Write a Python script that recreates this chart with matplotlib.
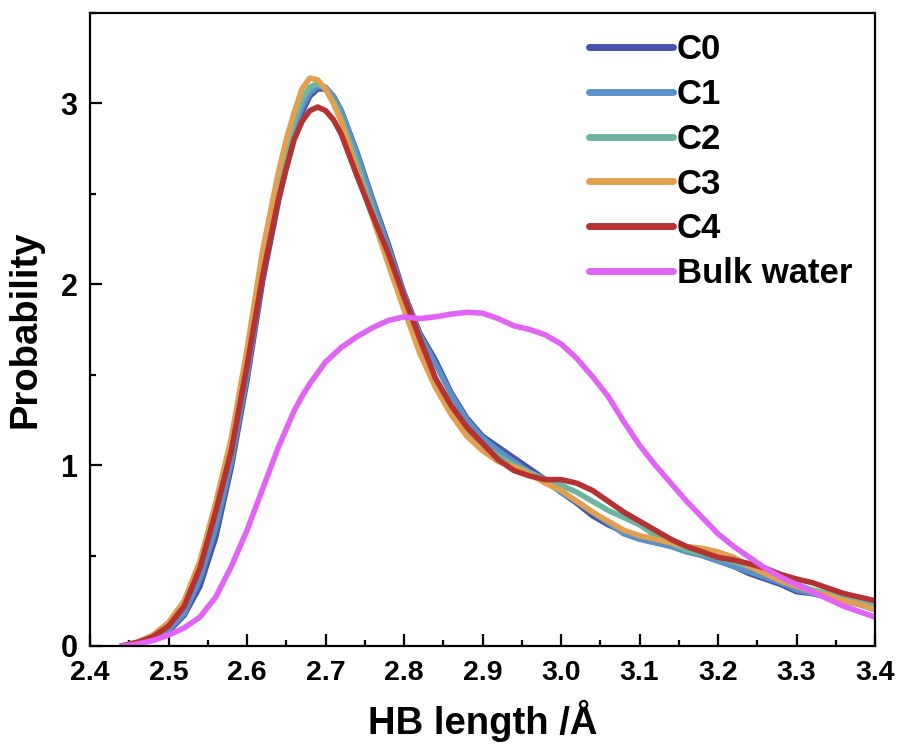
import matplotlib
matplotlib.use("Agg")
import matplotlib.pyplot as plt
from matplotlib.ticker import MultipleLocator

plt.rcParams['font.family'] = ['Liberation Sans', 'DejaVu Sans']
plt.rcParams['font.weight'] = 'bold'

# HB length grid (Å), finer around the peak
hb_len = [2.44, 2.46, 2.48, 2.50, 2.52, 2.54, 2.56, 2.58, 2.60, 2.62, 2.64,
          2.65, 2.66, 2.67, 2.68, 2.69, 2.70, 2.71, 2.72,
          2.74, 2.76, 2.78, 2.80, 2.82, 2.84, 2.86, 2.88, 2.90, 2.92, 2.94,
          2.96, 2.98, 3.00, 3.02, 3.04, 3.06, 3.08, 3.10, 3.12, 3.14, 3.16,
          3.18, 3.20, 3.22, 3.24, 3.26, 3.28, 3.30, 3.32, 3.34, 3.36, 3.38, 3.40]

p_c0 = [0.0, 0.01, 0.04, 0.08, 0.17, 0.33, 0.60, 0.99, 1.47, 2.02, 2.46,
        2.65, 2.82, 2.95, 3.04, 3.08, 3.08, 3.04, 2.96,
        2.73, 2.47, 2.22, 1.95, 1.73, 1.58, 1.40, 1.26, 1.16, 1.10, 1.04,
        0.98, 0.92, 0.85, 0.79, 0.72, 0.67, 0.63, 0.60, 0.59, 0.57, 0.53,
        0.50, 0.47, 0.44, 0.40, 0.37, 0.34, 0.30, 0.29, 0.27, 0.25, 0.23, 0.21]

p_c1 = [0.0, 0.01, 0.04, 0.09, 0.18, 0.37, 0.65, 1.02, 1.50, 2.05, 2.50,
        2.70, 2.86, 2.98, 3.06, 3.095, 3.09, 3.04, 2.96,
        2.72, 2.46, 2.20, 1.94, 1.72, 1.56, 1.39, 1.25, 1.15, 1.08, 1.02,
        0.96, 0.91, 0.85, 0.80, 0.74, 0.68, 0.62, 0.59, 0.57, 0.55, 0.52,
        0.50, 0.47, 0.44, 0.41, 0.38, 0.35, 0.31, 0.29, 0.27, 0.25, 0.23, 0.20]

p_c2 = [0.0, 0.02, 0.05, 0.11, 0.22, 0.43, 0.74, 1.10, 1.58, 2.12, 2.56,
        2.75, 2.90, 3.02, 3.09, 3.11, 3.08, 3.01, 2.92,
        2.67, 2.41, 2.15, 1.90, 1.67, 1.48, 1.32, 1.20, 1.11, 1.05, 1.00,
        0.96, 0.92, 0.89, 0.85, 0.80, 0.75, 0.71, 0.67, 0.61, 0.57, 0.53,
        0.51, 0.49, 0.465, 0.44, 0.41, 0.37, 0.34, 0.31, 0.29, 0.26, 0.24, 0.22]

p_c3 = [0.0, 0.02, 0.06, 0.13, 0.25, 0.47, 0.79, 1.15, 1.64, 2.19, 2.62,
        2.80, 2.95, 3.08, 3.14, 3.13, 3.08, 3.00, 2.90,
        2.62, 2.37, 2.11, 1.86, 1.62, 1.43, 1.28, 1.16, 1.08, 1.02, 0.99,
        0.95, 0.90, 0.86, 0.80, 0.74, 0.69, 0.64, 0.61, 0.59, 0.57, 0.55,
        0.54, 0.52, 0.49, 0.44, 0.40, 0.36, 0.33, 0.30, 0.28, 0.25, 0.23, 0.20]

p_c4 = [0.0, 0.02, 0.05, 0.11, 0.22, 0.43, 0.74, 1.08, 1.55, 2.05, 2.47,
        2.64, 2.80, 2.90, 2.96, 2.98, 2.96, 2.91, 2.83,
        2.60, 2.38, 2.17, 1.93, 1.70, 1.48, 1.33, 1.21, 1.12, 1.03, 0.97,
        0.94, 0.92, 0.92, 0.90, 0.86, 0.80, 0.74, 0.69, 0.64, 0.59, 0.55,
        0.52, 0.49, 0.475, 0.455, 0.43, 0.395, 0.37, 0.35, 0.32, 0.29, 0.27, 0.25]

p_bulk = [0.0, 0.01, 0.03, 0.06, 0.10, 0.16, 0.27, 0.44, 0.64, 0.87, 1.10,
          1.20, 1.30, 1.38, 1.45, 1.51, 1.57, 1.61, 1.65,
          1.71, 1.76, 1.80, 1.82, 1.81, 1.82, 1.835, 1.845, 1.84, 1.81, 1.77,
          1.75, 1.72, 1.67, 1.59, 1.49, 1.38, 1.24, 1.11, 1.00, 0.90, 0.80,
          0.71, 0.62, 0.55, 0.49, 0.43, 0.38, 0.34, 0.30, 0.26, 0.22, 0.19, 0.16]

labels = ['C0', 'C1', 'C2', 'C3', 'C4', 'Bulk water']
colors = ['#4454AA', '#5B91C8', '#6EB4A0', '#E1A050', '#B43232', '#E164F5']
series = [p_c0, p_c1, p_c2, p_c3, p_c4, p_bulk]

fig = plt.figure(figsize=(9.04, 7.5), dpi=100)
ax = fig.add_axes([0.0996, 0.1387, 0.8684, 0.844])

for y, lab, col in zip(series, labels, colors):
    ax.plot(hb_len, y, color=col, lw=4.0, label=lab,
            solid_capstyle='round', solid_joinstyle='round')

ax.set_xlim(2.4, 3.4)
ax.set_ylim(0, 3.5)
ax.xaxis.set_major_locator(MultipleLocator(0.1))
ax.xaxis.set_minor_locator(MultipleLocator(0.05))
ax.yaxis.set_major_locator(MultipleLocator(1))
ax.yaxis.set_minor_locator(MultipleLocator(0.5))
ax.set_xticks([2.4, 2.5, 2.6, 2.7, 2.8, 2.9, 3.0, 3.1, 3.2, 3.3, 3.4])
ax.set_xticklabels(['2.4', '2.5', '2.6', '2.7', '2.8', '2.9', '3.0',
                    '3.1', '3.2', '3.3', '3.4'])

for s in ax.spines.values():
    s.set_linewidth(1.6)
ax.tick_params(which='both', direction='in', top=False, right=False, width=1.6)
ax.tick_params(which='major', length=8.5)
ax.tick_params(which='minor', length=4.5)
ax.tick_params(axis='x', which='major', labelsize=20.5, pad=10)
ax.tick_params(axis='y', which='major', labelsize=22, pad=9)

ax.set_xlabel('HB length /Å', fontsize=27.5, fontweight='bold', labelpad=10)
ax.set_ylabel('Probability', fontsize=27.5, fontweight='bold', labelpad=12)

leg = ax.legend(loc='upper left', bbox_to_anchor=(0.636, 0.968), frameon=False,
                fontsize=25, handlelength=2.4, handletextpad=0.12,
                labelspacing=0.34, borderpad=0.0, borderaxespad=0.0)
for h in leg.get_lines():
    h.set_linewidth(5.0)
    h.set_solid_capstyle('round')

fig.savefig('out.png', dpi=100)
